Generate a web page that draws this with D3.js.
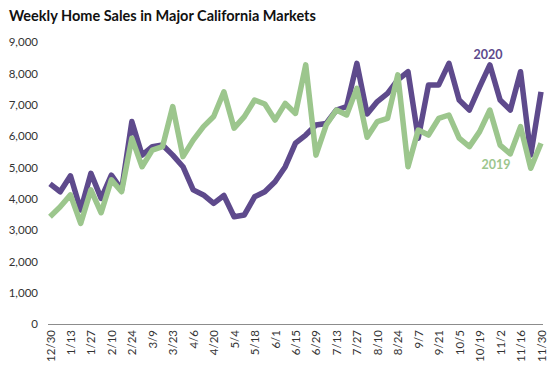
<!DOCTYPE html>
<html>
<head>
<meta charset="utf-8">
<script src="https://cdn.jsdelivr.net/npm/d3@7"></script>
<style>
  body { margin: 0; background: #fff; }
  svg { font-family: Lato, "Open Sans", sans-serif; }
</style>
</head>
<body>
<div id="chart"></div>
<script>
var weeks = ["12/30","1/6","1/13","1/20","1/27","2/3","2/10","2/17","2/24","3/2","3/9","3/16","3/23","3/30",
    "4/6","4/13","4/20","4/27","5/4","5/11","5/18","5/25","6/1","6/8","6/15","6/22","6/29","7/6","7/13","7/20",
    "7/27","8/3","8/10","8/17","8/24","8/31","9/7","9/14","9/21","9/28","10/5","10/12","10/19","10/26","11/2",
    "11/9","11/16","11/23","11/30"];

var sales2020 = [4470,4220,4730,3640,4810,4010,4750,4280,6460,5390,5660,5710,5390,5020,4280,4120,3850,4100,3425,3480,
    4060,4220,4540,5020,5770,6030,6350,6400,6830,6940,8320,6700,7100,7360,7790,8050,5930,7630,7630,8320,
    7150,6830,7570,8270,7150,6830,8050,5390,7410];

var sales2019 = [3425,3740,4120,3210,4280,3550,4600,4220,5930,5020,5550,5660,6940,5340,5870,6300,6620,7410,6250,6620,
    7150,7020,6510,7040,6720,8270,5390,6350,6830,6670,7520,5960,6460,6560,7950,5020,6190,6030,6560,6670,
    5930,5660,6140,6830,5710,5430,6300,4970,5770];

var yTicks = [0,1000,2000,3000,4000,5000,6000,7000,8000,9000];

var svgWidth = 552;
var svgHeight = 372;

var purple = "#5e4a8c";
var green = "#9cc68d";

var svg = d3.select("#chart")
    .append("svg")
    .attr("width", svgWidth)
    .attr("height", svgHeight);

svg.append("text")
    .attr("x", 9)
    .attr("y", 21)
    .attr("font-size", "14.5px")
    .attr("font-weight", "bold")
    .attr("fill", "#111")
    .text("Weekly Home Sales in Major California Markets");

var xScale = d3.scalePoint()
    .domain(weeks)
    .range([50, 541]);

var yScale = d3.scaleLinear()
    .domain([0, 9000])
    .range([324, 42]);

// y axis labels (no line)
var yAxis = d3.axisLeft(yScale)
    .tickValues(yTicks)
    .tickSize(0)
    .tickPadding(0)
    .tickFormat(d3.format(","));

var yG = svg.append("g")
    .attr("transform", "translate(38,0)")
    .call(yAxis);
yG.select(".domain").remove();
yG.selectAll("text")
    .attr("font-family", "Lato, sans-serif")
    .attr("font-size", "11.5px")
    .attr("fill", "#333");

// x axis
var xAxis = d3.axisBottom(xScale)
    .tickValues(weeks.filter(function (d, i) { return i % 2 === 0; }))
    .tickSize(0)
    .tickPadding(5);

var xG = svg.append("g")
    .attr("transform", "translate(0, 324)")
    .call(xAxis);
xG.select(".domain")
    .attr("d", "M48,0.5H543")
    .attr("stroke", "#8c8c8c");
xG.selectAll("text")
    .attr("font-family", "Lato, sans-serif")
    .attr("font-size", "11.5px")
    .attr("fill", "#333")
    .attr("transform", "rotate(-90)")
    .attr("text-anchor", "end")
    .attr("x", -6)
    .attr("y", 0)
    .attr("dy", "0.35em");

var line = function (values) {
    return d3.line()
        .x(function (d, i) { return xScale(weeks[i]); })
        .y(function (d) { return yScale(d); })(values);
};

svg.append("path")
    .attr("d", line(sales2020))
    .attr("fill", "none")
    .attr("stroke", purple)
    .attr("stroke-width", 5.5)
    .attr("stroke-linejoin", "round");

svg.append("path")
    .attr("d", line(sales2019))
    .attr("fill", "none")
    .attr("stroke", green)
    .attr("stroke-width", 5.5)
    .attr("stroke-linejoin", "round");

svg.append("text")
    .attr("x", 488)
    .attr("y", 59)
    .attr("text-anchor", "middle")
    .attr("font-size", "12.5px")
    .attr("font-weight", "bold")
    .attr("fill", purple)
    .text("2020");

svg.append("text")
    .attr("x", 496)
    .attr("y", 169)
    .attr("text-anchor", "middle")
    .attr("font-size", "12.5px")
    .attr("font-weight", "bold")
    .attr("fill", green)
    .text("2019");
</script>
</body>
</html>
